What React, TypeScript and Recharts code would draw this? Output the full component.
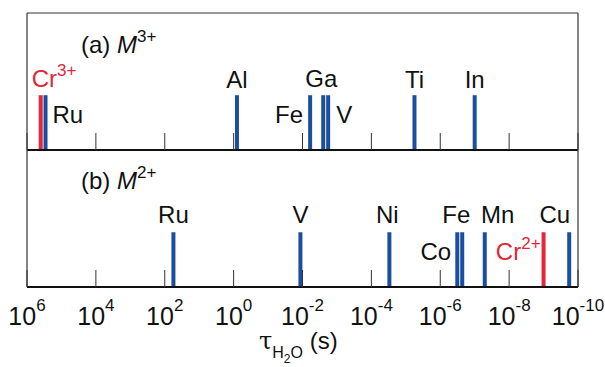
import { ComposedChart, Line, Scatter, XAxis, YAxis } from 'recharts'

// tau_H2O (s)
const m3Names = ['Cr', 'Ru', 'Al', 'Fe', 'Ga', 'V', 'Ti', 'In']
const m3Tau = [4.0e5, 2.9e5, 0.8, 6.0e-3, 2.5e-3, 1.8e-3, 5.6e-6, 1.0e-7]
const m2Names = ['Ru', 'V', 'Ni', 'Fe', 'Co', 'Mn', 'Cr', 'Cu']
const m2Tau = [56, 1.15e-2, 3.0e-5, 3.2e-7, 2.3e-7, 5.1e-8, 1.0e-9, 1.8e-10]
const xTicks = [1e6, 1e4, 1e2, 1, 1e-2, 1e-4, 1e-6, 1e-8, 1e-10]
const highlight = 'Cr'

const BLUE = '#1a4f9f'
const RED = '#e3263a'
const INK = '#111'
const FONT = '"Liberation Sans", Arial, Helvetica, sans-serif'
const BAR_H = 1
const Y_DOMAIN = [0, 2.5]
const X_DOMAIN = [1e-10, 1e6]

// where each label sits relative to the top of its bar
type Pos = { dx: number; dy: number; anchor: 'start' | 'middle' | 'end' }
const M3_POS: Record<string, Pos> = {
  Cr: { dx: -9, dy: -8, anchor: 'start' },
  Ru: { dx: 7, dy: 28, anchor: 'start' },
  Fe: { dx: -7, dy: 28, anchor: 'end' },
  Ga: { dx: -2, dy: -8, anchor: 'middle' },
  V: { dx: 8, dy: 28, anchor: 'start' },
}
const M2_POS: Record<string, Pos> = {
  Ni: { dx: -2, dy: -9, anchor: 'middle' },
  Fe: { dx: -1, dy: -9, anchor: 'middle' },
  Co: { dx: -11, dy: 28, anchor: 'end' },
  Mn: { dx: 13, dy: -9, anchor: 'middle' },
  Cr: { dx: -3, dy: 28, anchor: 'end' },
  Cu: { dx: 1, dy: -9, anchor: 'end' },
}

const m3 = m3Names.map((name, i) => ({ name, tau: m3Tau[i], h: BAR_H }))
const m2 = m2Names.map((name, i) => ({ name, tau: m2Tau[i], h: BAR_H }))

function ElemLabel(props: any) {
  const { cx, cy, payload, posMap, charge, above } = props
  const p: Pos = posMap[payload.name] ?? { dx: 0, dy: above, anchor: 'middle' }
  const hot = payload.name === highlight
  return (
    <text x={cx + p.dx} y={cy + p.dy} textAnchor={p.anchor} fontSize={24} fontFamily={FONT} fill={hot ? RED : INK}>
      <tspan>{payload.name}</tspan>
      {hot && <tspan dy={-11} fontSize={17}>{charge}</tspan>}
    </text>
  )
}

function PowTick({ x, y, payload }: any) {
  const e = Math.round(Math.log10(payload.value))
  return (
    <text x={x} y={y + 30} textAnchor="middle" fontSize={25} fontFamily={FONT} fill={INK}>
      <tspan>10</tspan>
      <tspan dy={-14} fontSize={17}>{e}</tspan>
    </text>
  )
}

const NoLabel = () => <g />

function bars(list: typeof m3) {
  return list.map(d => (
    <Line
      key={d.name + d.tau}
      xAxisId="x"
      yAxisId="y"
      data={[{ tau: d.tau, h: 0 }, { tau: d.tau, h: d.h }]}
      dataKey="h"
      stroke={d.name === highlight ? RED : BLUE}
      strokeWidth={4}
      strokeLinecap="butt"
      dot={false}
      activeDot={false}
      isAnimationActive={false}
    />
  ))
}

function Panel({ list, posMap, charge, bottom }: any) {
  const height = bottom ? 217 : 152
  const margin = bottom
    ? { top: 0, right: 27, bottom: 30, left: 27 }
    : { top: 13, right: 27, bottom: 0, left: 27 }
  return (
    <ComposedChart width={605} height={height} margin={margin}>
      <XAxis
        xAxisId="x"
        dataKey="tau"
        type="number"
        scale="log"
        domain={X_DOMAIN}
        reversed
        allowDataOverflow
        ticks={xTicks}
        interval={0}
        height={bottom ? 50 : 2}
        axisLine={{ stroke: INK, strokeWidth: 2 }}
        tickLine={false}
        tick={bottom ? <PowTick /> : false}
      />
      <XAxis
        xAxisId="in"
        dataKey="tau"
        type="number"
        scale="log"
        domain={X_DOMAIN}
        reversed
        allowDataOverflow
        ticks={xTicks}
        interval={0}
        mirror
        height={1}
        axisLine={false}
        tickSize={17}
        tickLine={{ stroke: '#333', strokeWidth: 1 }}
        tick={<NoLabel />}
      />
      {!bottom && (
        <XAxis xAxisId="top" orientation="top" mirror height={1} type="number" domain={X_DOMAIN}
          axisLine={{ stroke: '#333', strokeWidth: 1 }} tickLine={false} tick={false} />
      )}
      <YAxis yAxisId="y" dataKey="h" type="number" domain={Y_DOMAIN} mirror width={1}
        axisLine={{ stroke: '#333', strokeWidth: 1.2 }} tickLine={false} tick={false} />
      <YAxis yAxisId="r" orientation="right" type="number" domain={Y_DOMAIN} mirror width={1}
        axisLine={{ stroke: '#333', strokeWidth: 1.2 }} tickLine={false} tick={false} />
      {bars(list)}
      <Scatter
        xAxisId="x"
        yAxisId="y"
        data={list}
        dataKey="h"
        isAnimationActive={false}
        shape={(p: any) => <ElemLabel {...p} posMap={posMap} charge={charge} above={bottom ? -9 : -7} />}
      />
    </ComposedChart>
  )
}

export default function App() {
  return (
    <div style={{ position: 'absolute', left: 0, top: 0, width: 605, height: 367, background: '#fff' }}>
      <div style={{ position: 'absolute', left: 0, top: 0 }}>
        <Panel list={m3} posMap={M3_POS} charge="3+" />
      </div>
      <div style={{ position: 'absolute', left: 0, top: 150 }}>
        <Panel list={m2} posMap={M2_POS} charge="2+" bottom />
      </div>
      <svg width={605} height={367} style={{ position: 'absolute', left: 0, top: 0, pointerEvents: 'none' }}>
        <text x={81} y={53} fontSize={24} fontFamily={FONT} fill={INK}>
          <tspan>(a) </tspan>
          <tspan fontStyle="italic">M</tspan>
          <tspan dy={-11} fontSize={17}>3+</tspan>
        </text>
        <text x={81} y={189} fontSize={24} fontFamily={FONT} fill={INK}>
          <tspan>(b) </tspan>
          <tspan fontStyle="italic">M</tspan>
          <tspan dy={-11} fontSize={17}>2+</tspan>
        </text>
        <text x={259} y={349} fontSize={24} fontFamily={FONT} fill={INK}>
          <tspan fontFamily='"DejaVu Serif", serif'>τ</tspan>
          <tspan dy={9} fontSize={16}>H</tspan>
          <tspan dy={5} fontSize={12}>2</tspan>
          <tspan dy={-5} fontSize={16}>O</tspan>
          <tspan dy={-9}> (s)</tspan>
        </text>
      </svg>
    </div>
  )
}
